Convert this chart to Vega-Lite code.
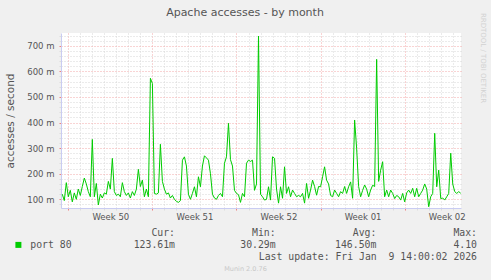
{
  "$schema": "https://vega.github.io/schema/vega-lite/v6.json",
  "width": 400,
  "height": 175,
  "autosize": "none",
  "padding": {"left": 61, "top": 33, "right": 30, "bottom": 72},
  "background": "#f0f0f0",
  "config": {"view": {"fill": "#ffffff", "stroke": null}},
  "title": {
    "text": "Apache accesses - by month",
    "frame": "group",
    "anchor": "middle",
    "dx": -16,
    "offset": -15,
    "baseline": "alphabetic",
    "font": "DejaVu Sans",
    "fontSize": 11,
    "fontWeight": "normal",
    "color": "#555555"
  },
  "layer": [
    {
      "data": {
        "values": [
          {"t": "2025-12-07T12:00", "v": 0.120}, {"t": "2025-12-07T16:00", "v": 0.095}, {"t": "2025-12-07T20:00", "v": 0.165},
          {"t": "2025-12-08T00:00", "v": 0.110}, {"t": "2025-12-08T04:00", "v": 0.135}, {"t": "2025-12-08T08:00", "v": 0.090}, {"t": "2025-12-08T12:00", "v": 0.125}, {"t": "2025-12-08T16:00", "v": 0.100}, {"t": "2025-12-08T20:00", "v": 0.140},
          {"t": "2025-12-09T00:00", "v": 0.115}, {"t": "2025-12-09T04:00", "v": 0.150}, {"t": "2025-12-09T08:00", "v": 0.183}, {"t": "2025-12-09T12:00", "v": 0.160}, {"t": "2025-12-09T16:00", "v": 0.130}, {"t": "2025-12-09T20:00", "v": 0.110},
          {"t": "2025-12-10T00:00", "v": 0.334}, {"t": "2025-12-10T04:00", "v": 0.110}, {"t": "2025-12-10T08:00", "v": 0.162}, {"t": "2025-12-10T12:00", "v": 0.078}, {"t": "2025-12-10T16:00", "v": 0.120}, {"t": "2025-12-10T20:00", "v": 0.105},
          {"t": "2025-12-11T00:00", "v": 0.125}, {"t": "2025-12-11T04:00", "v": 0.120}, {"t": "2025-12-11T08:00", "v": 0.170}, {"t": "2025-12-11T12:00", "v": 0.140}, {"t": "2025-12-11T16:00", "v": 0.260}, {"t": "2025-12-11T20:00", "v": 0.130},
          {"t": "2025-12-12T00:00", "v": 0.115}, {"t": "2025-12-12T04:00", "v": 0.120}, {"t": "2025-12-12T08:00", "v": 0.110}, {"t": "2025-12-12T12:00", "v": 0.165}, {"t": "2025-12-12T16:00", "v": 0.130}, {"t": "2025-12-12T20:00", "v": 0.115},
          {"t": "2025-12-13T00:00", "v": 0.125}, {"t": "2025-12-13T04:00", "v": 0.105}, {"t": "2025-12-13T08:00", "v": 0.130}, {"t": "2025-12-13T12:00", "v": 0.115}, {"t": "2025-12-13T16:00", "v": 0.140}, {"t": "2025-12-13T20:00", "v": 0.217},
          {"t": "2025-12-14T00:00", "v": 0.150}, {"t": "2025-12-14T04:00", "v": 0.175}, {"t": "2025-12-14T08:00", "v": 0.110}, {"t": "2025-12-14T12:00", "v": 0.140}, {"t": "2025-12-14T16:00", "v": 0.110}, {"t": "2025-12-14T20:00", "v": 0.573},
          {"t": "2025-12-15T00:00", "v": 0.553}, {"t": "2025-12-15T04:00", "v": 0.123}, {"t": "2025-12-15T08:00", "v": 0.120}, {"t": "2025-12-15T12:00", "v": 0.125}, {"t": "2025-12-15T16:00", "v": 0.315}, {"t": "2025-12-15T20:00", "v": 0.170},
          {"t": "2025-12-16T00:00", "v": 0.140}, {"t": "2025-12-16T04:00", "v": 0.120}, {"t": "2025-12-16T08:00", "v": 0.125}, {"t": "2025-12-16T12:00", "v": 0.105}, {"t": "2025-12-16T16:00", "v": 0.115}, {"t": "2025-12-16T20:00", "v": 0.100},
          {"t": "2025-12-17T00:00", "v": 0.092}, {"t": "2025-12-17T04:00", "v": 0.088}, {"t": "2025-12-17T08:00", "v": 0.095}, {"t": "2025-12-17T12:00", "v": 0.253}, {"t": "2025-12-17T16:00", "v": 0.266}, {"t": "2025-12-17T20:00", "v": 0.230},
          {"t": "2025-12-18T00:00", "v": 0.120}, {"t": "2025-12-18T04:00", "v": 0.100}, {"t": "2025-12-18T08:00", "v": 0.123}, {"t": "2025-12-18T12:00", "v": 0.149}, {"t": "2025-12-18T16:00", "v": 0.110}, {"t": "2025-12-18T20:00", "v": 0.188},
          {"t": "2025-12-19T00:00", "v": 0.149}, {"t": "2025-12-19T04:00", "v": 0.230}, {"t": "2025-12-19T08:00", "v": 0.270}, {"t": "2025-12-19T12:00", "v": 0.262}, {"t": "2025-12-19T16:00", "v": 0.253}, {"t": "2025-12-19T20:00", "v": 0.200},
          {"t": "2025-12-20T00:00", "v": 0.120}, {"t": "2025-12-20T04:00", "v": 0.105}, {"t": "2025-12-20T08:00", "v": 0.100}, {"t": "2025-12-20T12:00", "v": 0.115}, {"t": "2025-12-20T16:00", "v": 0.123}, {"t": "2025-12-20T20:00", "v": 0.110},
          {"t": "2025-12-21T00:00", "v": 0.241}, {"t": "2025-12-21T04:00", "v": 0.266}, {"t": "2025-12-21T08:00", "v": 0.397}, {"t": "2025-12-21T12:00", "v": 0.255}, {"t": "2025-12-21T16:00", "v": 0.230}, {"t": "2025-12-21T20:00", "v": 0.135},
          {"t": "2025-12-22T00:00", "v": 0.123}, {"t": "2025-12-22T04:00", "v": 0.118}, {"t": "2025-12-22T08:00", "v": 0.088}, {"t": "2025-12-22T12:00", "v": 0.123}, {"t": "2025-12-22T16:00", "v": 0.110}, {"t": "2025-12-22T20:00", "v": 0.241},
          {"t": "2025-12-23T00:00", "v": 0.253}, {"t": "2025-12-23T04:00", "v": 0.248}, {"t": "2025-12-23T08:00", "v": 0.253}, {"t": "2025-12-23T12:00", "v": 0.135}, {"t": "2025-12-23T16:00", "v": 0.160}, {"t": "2025-12-23T20:00", "v": 0.738},
          {"t": "2025-12-24T00:00", "v": 0.120}, {"t": "2025-12-24T04:00", "v": 0.110}, {"t": "2025-12-24T08:00", "v": 0.097}, {"t": "2025-12-24T12:00", "v": 0.100}, {"t": "2025-12-24T16:00", "v": 0.149}, {"t": "2025-12-24T20:00", "v": 0.097},
          {"t": "2025-12-25T00:00", "v": 0.266}, {"t": "2025-12-25T04:00", "v": 0.260}, {"t": "2025-12-25T08:00", "v": 0.140}, {"t": "2025-12-25T12:00", "v": 0.085}, {"t": "2025-12-25T16:00", "v": 0.149}, {"t": "2025-12-25T20:00", "v": 0.104},
          {"t": "2025-12-26T00:00", "v": 0.227}, {"t": "2025-12-26T04:00", "v": 0.123}, {"t": "2025-12-26T08:00", "v": 0.149}, {"t": "2025-12-26T12:00", "v": 0.110}, {"t": "2025-12-26T16:00", "v": 0.136}, {"t": "2025-12-26T20:00", "v": 0.123},
          {"t": "2025-12-27T00:00", "v": 0.110}, {"t": "2025-12-27T04:00", "v": 0.115}, {"t": "2025-12-27T08:00", "v": 0.110}, {"t": "2025-12-27T12:00", "v": 0.123}, {"t": "2025-12-27T16:00", "v": 0.085}, {"t": "2025-12-27T20:00", "v": 0.162},
          {"t": "2025-12-28T00:00", "v": 0.104}, {"t": "2025-12-28T04:00", "v": 0.136}, {"t": "2025-12-28T08:00", "v": 0.175}, {"t": "2025-12-28T12:00", "v": 0.150}, {"t": "2025-12-28T16:00", "v": 0.116}, {"t": "2025-12-28T20:00", "v": 0.150},
          {"t": "2025-12-29T00:00", "v": 0.149}, {"t": "2025-12-29T04:00", "v": 0.188}, {"t": "2025-12-29T08:00", "v": 0.227}, {"t": "2025-12-29T12:00", "v": 0.175}, {"t": "2025-12-29T16:00", "v": 0.160}, {"t": "2025-12-29T20:00", "v": 0.115},
          {"t": "2025-12-30T00:00", "v": 0.110}, {"t": "2025-12-30T04:00", "v": 0.136}, {"t": "2025-12-30T08:00", "v": 0.123}, {"t": "2025-12-30T12:00", "v": 0.110}, {"t": "2025-12-30T16:00", "v": 0.130}, {"t": "2025-12-30T20:00", "v": 0.123},
          {"t": "2025-12-31T00:00", "v": 0.150}, {"t": "2025-12-31T04:00", "v": 0.123}, {"t": "2025-12-31T08:00", "v": 0.149}, {"t": "2025-12-31T12:00", "v": 0.168}, {"t": "2025-12-31T16:00", "v": 0.104}, {"t": "2025-12-31T20:00", "v": 0.410},
          {"t": "2026-01-01T00:00", "v": 0.300}, {"t": "2026-01-01T04:00", "v": 0.150}, {"t": "2026-01-01T08:00", "v": 0.110}, {"t": "2026-01-01T12:00", "v": 0.135}, {"t": "2026-01-01T16:00", "v": 0.156}, {"t": "2026-01-01T20:00", "v": 0.140},
          {"t": "2026-01-02T00:00", "v": 0.110}, {"t": "2026-01-02T04:00", "v": 0.136}, {"t": "2026-01-02T08:00", "v": 0.155}, {"t": "2026-01-02T12:00", "v": 0.150}, {"t": "2026-01-02T16:00", "v": 0.647}, {"t": "2026-01-02T20:00", "v": 0.170},
          {"t": "2026-01-03T00:00", "v": 0.214}, {"t": "2026-01-03T04:00", "v": 0.247}, {"t": "2026-01-03T08:00", "v": 0.110}, {"t": "2026-01-03T12:00", "v": 0.136}, {"t": "2026-01-03T16:00", "v": 0.110}, {"t": "2026-01-03T20:00", "v": 0.136},
          {"t": "2026-01-04T00:00", "v": 0.123}, {"t": "2026-01-04T04:00", "v": 0.103}, {"t": "2026-01-04T08:00", "v": 0.115}, {"t": "2026-01-04T12:00", "v": 0.110}, {"t": "2026-01-04T16:00", "v": 0.097}, {"t": "2026-01-04T20:00", "v": 0.123},
          {"t": "2026-01-05T00:00", "v": 0.090}, {"t": "2026-01-05T04:00", "v": 0.125}, {"t": "2026-01-05T08:00", "v": 0.136}, {"t": "2026-01-05T12:00", "v": 0.123}, {"t": "2026-01-05T16:00", "v": 0.143}, {"t": "2026-01-05T20:00", "v": 0.110},
          {"t": "2026-01-06T00:00", "v": 0.143}, {"t": "2026-01-06T04:00", "v": 0.110}, {"t": "2026-01-06T08:00", "v": 0.123}, {"t": "2026-01-06T12:00", "v": 0.136}, {"t": "2026-01-06T16:00", "v": 0.160}, {"t": "2026-01-06T20:00", "v": 0.140},
          {"t": "2026-01-07T00:00", "v": 0.071}, {"t": "2026-01-07T04:00", "v": 0.110}, {"t": "2026-01-07T08:00", "v": 0.123}, {"t": "2026-01-07T12:00", "v": 0.358}, {"t": "2026-01-07T16:00", "v": 0.149}, {"t": "2026-01-07T20:00", "v": 0.214},
          {"t": "2026-01-08T00:00", "v": 0.103}, {"t": "2026-01-08T04:00", "v": 0.105}, {"t": "2026-01-08T08:00", "v": 0.097}, {"t": "2026-01-08T12:00", "v": 0.110}, {"t": "2026-01-08T16:00", "v": 0.123}, {"t": "2026-01-08T20:00", "v": 0.280},
          {"t": "2026-01-09T00:00", "v": 0.160}, {"t": "2026-01-09T04:00", "v": 0.130}, {"t": "2026-01-09T08:00", "v": 0.123}, {"t": "2026-01-09T12:00", "v": 0.130}, {"t": "2026-01-09T16:00", "v": 0.1236}
        ]
      },
      "mark": {"type": "line", "strokeWidth": 1, "interpolate": "linear"},
      "encoding": {
        "x": {
          "field": "t",
          "type": "temporal",
          "scale": {
            "domain": [
              {"year": 2025, "month": 12, "date": 7, "hours": 9, "minutes": 25},
              {"year": 2026, "month": 1, "date": 9, "hours": 16, "minutes": 31}
            ],
            "nice": false
          },
          "axis": {
            "tickCount": {"interval": "day", "step": 1},
            "labelExpr": "day(datum.value) == 4 ? 'Week ' + timeFormat(datum.value, '%V') : ''",
            "labelOffset": 6,
            "labelOverlap": false,
            "labelFlush": false,
            "labelBound": false,
            "labelFont": "DejaVu Sans",
            "labelFontSize": 8.5,
            "labelColor": "#555555",
            "labelBaseline": "alphabetic",
            "labelPadding": 9,
            "grid": true,
            "gridColor": {"condition": {"test": "day(datum.value) == 1", "value": "#f2a9a9"}, "value": "#d6d6d6"},
            "gridDash": [1, 2],
            "gridWidth": 1,
            "tickSize": 2,
            "tickColor": {"condition": {"test": "day(datum.value) == 1", "value": "#f08080"}, "value": "#dddddd"},
            "domainColor": "#c9ccf2",
            "title": "Munin 2.0.76",
            "titleX": 184,
            "titleY": 60,
            "titleAlign": "center",
            "titleBaseline": "middle",
            "titleFont": "DejaVu Sans",
            "titleFontSize": 6.5,
            "titleFontWeight": "normal",
            "titleColor": "#c8c8c8"
          }
        },
        "y": {
          "field": "v",
          "type": "quantitative",
          "scale": {"domain": [0.066, 0.75], "nice": false, "zero": false},
          "axis": {
            "values": [0.08, 0.1, 0.12, 0.14, 0.16, 0.18, 0.2, 0.22, 0.24, 0.26, 0.28, 0.3, 0.32, 0.34, 0.36, 0.38, 0.4, 0.42, 0.44, 0.46, 0.48, 0.5, 0.52, 0.54, 0.56, 0.58, 0.6, 0.62, 0.64, 0.66, 0.68, 0.7, 0.72, 0.74],
            "labelExpr": "round(datum.value * 1000) % 100 == 0 ? round(datum.value * 1000) + ' m' : ''",
            "labelOverlap": false,
            "labelFlush": false,
            "labelFont": "DejaVu Sans",
            "labelFontSize": 8.5,
            "labelColor": "#555555",
            "labelPadding": 5,
            "grid": true,
            "gridColor": {"condition": {"test": "round(datum.value * 1000) % 100 == 0", "value": "#f2a9a9"}, "value": "#d6d6d6"},
            "gridDash": [1, 2],
            "tickSize": 2,
            "tickColor": {"condition": {"test": "round(datum.value * 1000) % 100 == 0", "value": "#f08080"}, "value": "#dddddd"},
            "domainColor": "#c9ccf2",
            "title": "accesses / second",
            "titleX": -51,
            "titleBaseline": "middle",
            "titleFont": "DejaVu Sans",
            "titleFontSize": 10.5,
            "titleFontWeight": "normal",
            "titleColor": "#555555"
          }
        },
        "color": {
          "datum": "port 80",
          "type": "nominal",
          "scale": {"range": ["#00cc00"]},
          "legend": {
            "orient": "none",
            "legendX": -47.5,
            "legendY": 207,
            "title": null,
            "padding": 0,
            "symbolType": "square",
            "symbolSize": 36,
            "labelFont": "DejaVu Sans Mono",
            "labelFontSize": 9.8,
            "labelColor": "#555555",
            "labelOffset": 7,
            "encode": {"symbols": {"update": {"fill": {"value": "#00cc00"}, "stroke": {"value": "#00cc00"}, "strokeWidth": {"value": 0}}}}
          }
        }
      }
    },
    {
      "data": {
        "values": [
          {"row": "head", "col": "Cur", "text": "Cur:\u00a0\u00a0"},
          {"row": "head", "col": "Min", "text": "Min:\u00a0\u00a0"},
          {"row": "head", "col": "Avg", "text": "Avg:\u00a0\u00a0"},
          {"row": "head", "col": "Max", "text": "Max:\u00a0\u00a0"},
          {"row": "stat", "col": "Cur", "text": "123.61m"},
          {"row": "stat", "col": "Min", "text": "30.29m"},
          {"row": "stat", "col": "Avg", "text": "146.50m"},
          {"row": "stat", "col": "Max", "text": "4.10\u00a0"},
          {"row": "update", "col": "Max", "text": "Last update: Fri Jan\u00a0 9 14:00:02 2026"}
        ]
      },
      "mark": {"type": "text", "font": "DejaVu Sans Mono", "fontSize": 9.8, "align": "right", "baseline": "middle", "color": "#555555"},
      "encoding": {
        "x": {
          "field": "col",
          "type": "nominal",
          "scale": {"type": "point", "domain": ["Cur", "Min", "Avg", "Max"], "range": [114, 416], "padding": 0},
          "axis": null
        },
        "y": {
          "field": "row",
          "type": "nominal",
          "scale": {"type": "point", "domain": ["head", "stat", "update"], "range": [200, 224], "padding": 0},
          "axis": {
            "orient": "right",
            "labels": false,
            "ticks": false,
            "domain": false,
            "grid": false,
            "title": "RRDTOOL / TOBI OETIKER",
            "titleX": 21,
            "titleY": 24.5,
            "titleAngle": 90,
            "titleAlign": "center",
            "titleBaseline": "middle",
            "titleFont": "DejaVu Sans",
            "titleFontSize": 7,
            "titleFontWeight": "normal",
            "titleColor": "#d2d2d2",
            "titleLimit": 300
          }
        },
        "text": {"field": "text"}
      }
    }
  ],
  "resolve": {"scale": {"x": "independent", "y": "independent"}}
}
